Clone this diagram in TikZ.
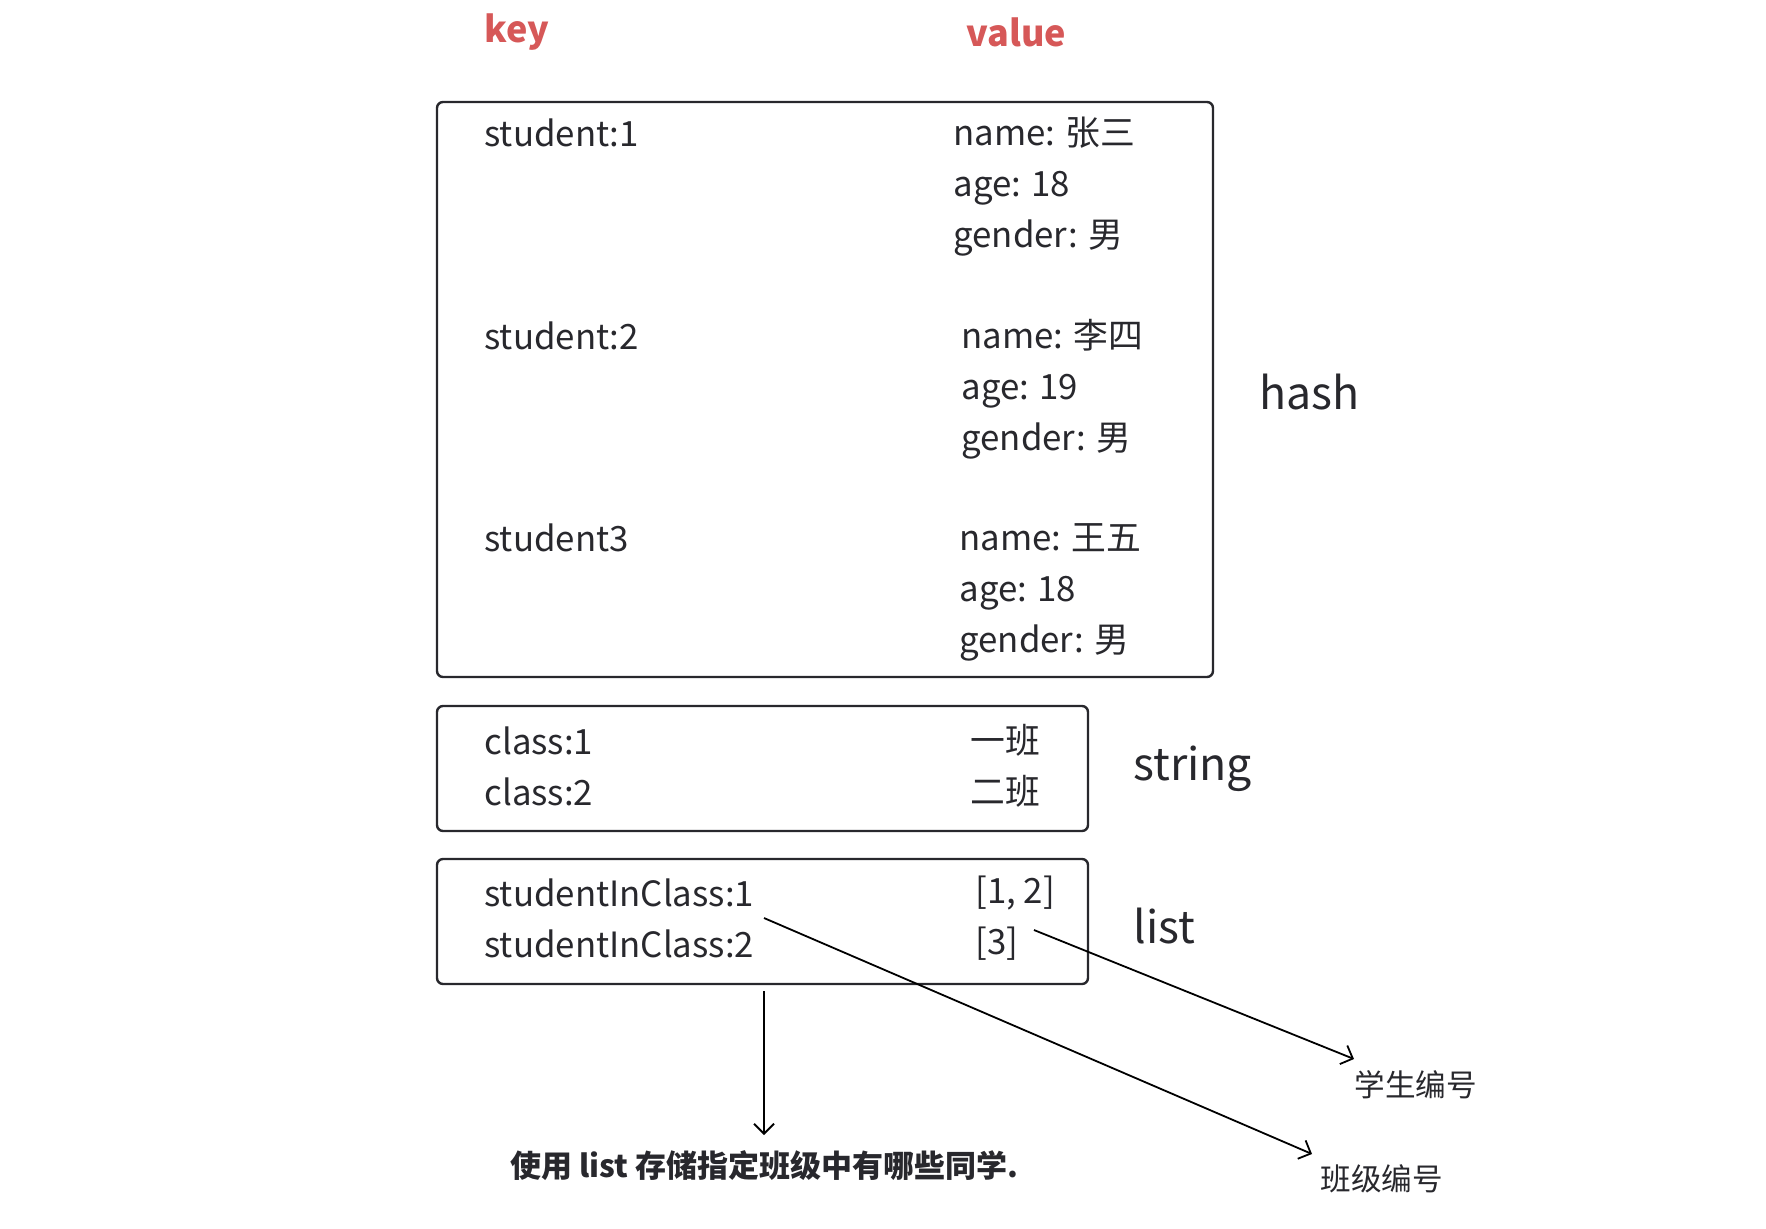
\documentclass[tikz,border=0pt]{standalone}
\usepackage{fontspec}
\setmainfont{Noto Sans CJK SC}
\usetikzlibrary{arrows.meta}
\definecolor{hdred}{RGB}{214,88,88}
\definecolor{txt}{RGB}{40,40,45}
\begin{document}
\begin{tikzpicture}[x=0.5pt,y=-0.5pt]
\tikzset{t/.style={anchor=west,inner sep=0pt,text=txt,font=\fontsize{17.4}{25.5}\selectfont,align=left},
  hd/.style={anchor=west,inner sep=0pt,text=hdred,font=\fontsize{18}{22}\selectfont\bfseries},
  kind/.style={anchor=west,inner sep=0pt,text=txt,font=\fontsize{22.3}{26}\selectfont},
  note/.style={anchor=west,inner sep=0pt,text=txt,font=\fontsize{15.3}{18}\selectfont},
  box/.style={draw=txt,line width=1.2pt,rounded corners=3pt},
  arr/.style={draw=black,line width=0.9pt,-{Straight Barb[length=5pt,width=10pt]}}}
\useasboundingbox (0,0) rectangle (1766,1228);

% headers
\path (484,32) node[hd] (k) {key};
\path (966,32) node[hd] (v) {value};

% hash
\draw[box] (437,102) rectangle (1213,677);
\path (484,133) node[t] (s1) {student:1};
\path (953,187) node[t] (v1) {name: 张三\\age: 18\\gender: 男};
\path (484,336) node[t] (s2) {student:2};
\path (961,389) node[t] (v2) {name: 李四\\age: 19\\gender: 男};
\path (484,538) node[t] (s3) {student3};
\path (959,592) node[t] (v3) {name: 王五\\age: 18\\gender: 男};
\path (1259,392) node[kind] (hash) {hash};

% string
\draw[box] (437,706) rectangle (1088,831);
\path (484,766) node[t] (c) {class:1\\class:2};
\path (970,766) node[t] (cv) {一班\\二班};
\path (1133,769) node[kind] (str) {string};

% list
\draw[box] (437,859) rectangle (1088,984);
\path (484,918) node[t] (l) {studentInClass:1\\studentInClass:2};
\path (975,918) node[t] (lv) {[1, 2]\\{[3]}};
\path (1133,926) node[kind] (lst) {list};

% notes
\path (1354,1085) node[note] (sid) {学生编号};
\path (1320,1179) node[note] (cid) {班级编号};
\path (510,1166) node[note,font=\fontsize{15.5}{18}\selectfont\bfseries] (use) {使用 list 存储指定班级中有哪些同学.};

\coordinate (a1) at (764,918);
\coordinate (a2) at (1034,930);
\coordinate (a3) at (764,991);
\draw[arr] (a1) -- (1312,1154);
\draw[arr] (a2) -- (1354,1059);
\draw[arr] (a3) -- (764,1135);
\end{tikzpicture}
\end{document}
